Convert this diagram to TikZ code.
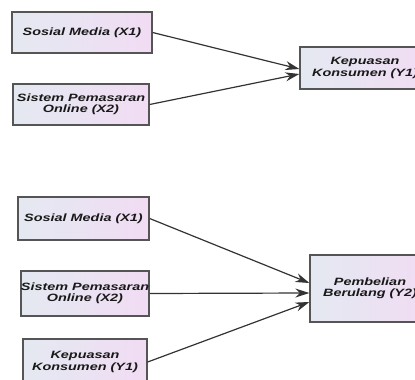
\documentclass[tikz,border=0pt]{standalone}
\usepackage{fontspec}
\usepackage{tikz}
\usetikzlibrary{arrows.meta}
\newfontfamily\boxfont[FakeStretch=1.36]{Liberation Sans}
\definecolor{boxleft}{HTML}{E4E9F1}
\definecolor{boxright}{HTML}{F1DCF4}
\definecolor{boxline}{HTML}{555555}
\definecolor{pathline}{HTML}{333333}

\begin{document}
\begin{tikzpicture}[x=1pt, y=-1pt,
  varbox/.style={draw=boxline, line width=1.3pt, left color=boxleft, right color=boxright,
    inner sep=0pt, align=center, text=black!90,
    font=\boxfont\bfseries\itshape\fontsize{10.6}{11.5}\selectfont},
  path/.style={draw=pathline, line width=1.2pt, -{Stealth[length=14pt,width=9pt]}}]
\useasboundingbox (0,0) rectangle (415,380);
\clip (0,0) rectangle (415,380);
\fill[white] (0,0) rectangle (415,380);

% Model 1: X1, X2 -> Y1
\node[varbox, minimum width=140pt, minimum height=41pt] (sm1) at (82,32.5) {Sosial Media (X1)};
\node[varbox, minimum width=136pt, minimum height=41pt] (sp1) at (81,104.5) {Sistem Pemasaran\\Online (X2)};
\node[varbox, minimum width=130pt, minimum height=42pt] (kp1) at (365,68) {Kepuasan\\Konsumen (Y1)};

\draw[path] (sm1.east) -- ([yshift=-1pt]kp1.west);
\draw[path] (sp1.east) -- ([yshift=-6pt]kp1.west);

% Model 2: X1, X2, Y1 -> Y2
\node[varbox, minimum width=131pt, minimum height=43pt] (sm2) at (83.5,218.5) {Sosial Media (X1)};
\node[varbox, minimum width=128pt, minimum height=45pt] (sp2) at (85,293.5) {Sistem Pemasaran\\Online (X2)};
\node[varbox, minimum width=124pt, minimum height=46pt] (kp2) at (85,362) {Kepuasan\\Konsumen (Y1)};
\node[varbox, minimum width=120pt, minimum height=67pt] (pb) at (370,288.5) {Pembelian\\Berulang (Y2)};

\draw[path] (sm2.east) -- ([yshift=5.5pt]pb.west);
\draw[path] (sp2.east) -- ([yshift=-4.5pt]pb.west);
\draw[path] (kp2.east) -- ([yshift=-13.5pt]pb.west);

\end{tikzpicture}
\end{document}
